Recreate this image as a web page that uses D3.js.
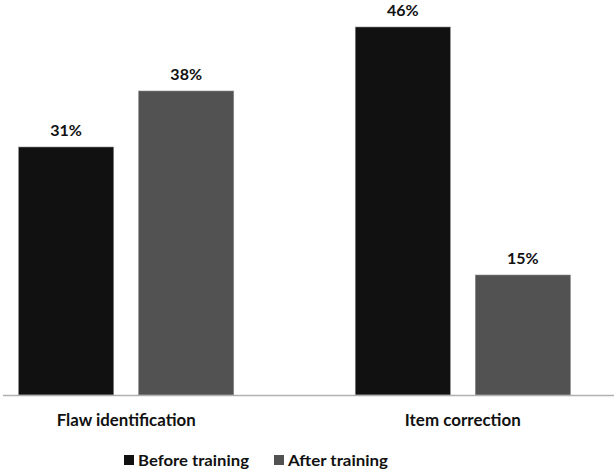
<!DOCTYPE html>
<html>
<head>
<meta charset="utf-8">
<script src="https://cdn.jsdelivr.net/npm/d3@7"></script>
<style>
  html, body { margin: 0; padding: 0; background: #fff; }
  svg { display: block; }
  text { font-family: Lato, "Open Sans", sans-serif; font-weight: bold; fill: #111; }
</style>
</head>
<body>
<svg id="chart" width="614" height="471"></svg>
<script>
const categories = ["Flaw identification", "Item correction"];
const seriesNames = ["Before training", "After training"];
const beforeValues = [31, 46];
const afterValues = [38, 15];
const colors = ["#111111", "#525252"];

const W = 614, H = 471;
const svg = d3.select("#chart");

const baseY = 395;
const y = d3.scaleLinear().domain([0, 46]).range([baseY, 27]);

const x0 = d3.scaleBand().domain(categories).range([-42, 631])
  .paddingInner(0.361).paddingOuter(0.18);
const x1 = d3.scaleBand().domain(seriesNames).range([0, x0.bandwidth()])
  .paddingInner(0.208).paddingOuter(0);

const data = categories.map((c, i) => ({
  cat: c,
  vals: [
    { s: seriesNames[0], v: beforeValues[i] },
    { s: seriesNames[1], v: afterValues[i] }
  ]
}));

const groups = svg.selectAll("g.grp").data(data).join("g")
  .attr("class", "grp")
  .attr("transform", d => `translate(${x0(d.cat)},0)`);

groups.selectAll("rect").data(d => d.vals).join("rect")
  .attr("x", d => x1(d.s))
  .attr("width", x1.bandwidth())
  .attr("y", d => y(d.v))
  .attr("height", d => y(0) - y(d.v))
  .attr("fill", (d, i) => colors[i])
  .attr("stroke", "#8a8a8a")
  .attr("stroke-width", 0.6);

groups.selectAll("text.val").data(d => d.vals).join("text")
  .attr("class", "val")
  .attr("x", d => x1(d.s) + x1.bandwidth() / 2)
  .attr("y", d => y(d.v) - 11)
  .attr("text-anchor", "middle")
  .style("font-size", "16px")
  .text(d => d.v + "%");

// baseline axis
svg.append("line")
  .attr("x1", 3).attr("x2", 614)
  .attr("y1", baseY + 0.5).attr("y2", baseY + 0.5)
  .attr("stroke", "#b0b0b0").attr("stroke-width", 1.5);

// category labels
const catWidths = [139, 116];
svg.selectAll("text.cat").data(categories).join("text")
  .attr("class", "cat")
  .attr("x", d => x0(d) + x0.bandwidth() / 2)
  .attr("y", 426)
  .attr("text-anchor", "middle")
  .style("font-size", "17px")
  .attr("textLength", (d, i) => catWidths[i])
  .attr("lengthAdjust", "spacingAndGlyphs")
  .text(d => d);

// legend
const legendX = [124, 274];
const legendW = [111, 100];
const lg = svg.selectAll("g.leg").data(seriesNames).join("g")
  .attr("class", "leg")
  .attr("transform", (d, i) => `translate(${legendX[i]},0)`);
lg.append("rect")
  .attr("x", 0).attr("y", 455).attr("width", 10).attr("height", 10)
  .attr("fill", (d, i) => colors[i]);
lg.append("text")
  .attr("x", 14).attr("y", 465.5)
  .style("font-size", "14.5px")
  .attr("textLength", (d, i) => legendW[i])
  .attr("lengthAdjust", "spacingAndGlyphs")
  .text(d => d);
</script>
</body>
</html>
